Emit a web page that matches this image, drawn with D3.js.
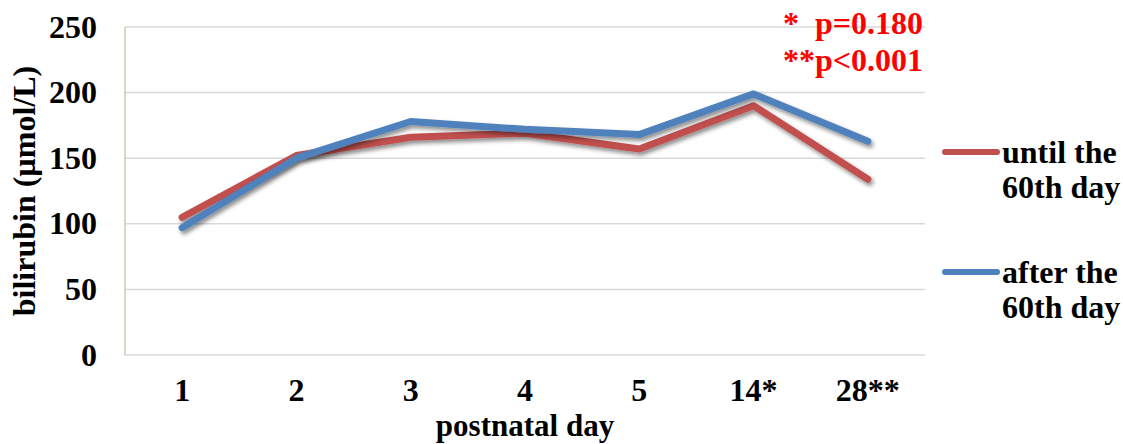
<!DOCTYPE html>
<html>
<head>
<meta charset="utf-8">
<script src="https://cdn.jsdelivr.net/npm/d3@7"></script>
<style>
  body { margin: 0; background: #fff; }
</style>
</head>
<body>
<div id="chart"></div>
<script>
// data
var days = ["1", "2", "3", "4", "5", "14*", "28**"];
var untilDay60 = [105, 152, 166, 169, 157, 190, 134];
var afterDay60 = [97, 150, 178, 172, 168, 199, 163];
var yTicks = [0, 50, 100, 150, 200, 250];
var seriesNames = [["until the", "60th day"], ["after the", "60th day"]];
var notes = ["*  p=0.180", "**p<0.001"];

var W = 1123, H = 444;
var margin = {top: 27, right: 198, bottom: 89, left: 125};
var font = "'Liberation Serif', 'Times New Roman', Times, serif";

var svg = d3.select("#chart").append("svg")
  .attr("width", W).attr("height", H)
  .attr("font-family", font)
  .attr("font-weight", "bold");

var defs = svg.append("defs");
var f = defs.append("filter").attr("id", "shadow")
  .attr("x", "-10%").attr("y", "-10%").attr("width", "120%").attr("height", "130%");
f.append("feDropShadow").attr("dx", 2).attr("dy", 3).attr("stdDeviation", 2)
  .attr("flood-color", "#000").attr("flood-opacity", 0.45);

var x = d3.scaleBand().domain(days)
  .range([margin.left, W - margin.right]).padding(0);
var y = d3.scaleLinear().domain([0, 250])
  .range([H - margin.bottom, margin.top]);

// gridlines
svg.append("g").selectAll("line").data(yTicks.filter(function(d) { return d > 0; }))
  .enter().append("line")
  .attr("x1", margin.left).attr("x2", W - margin.right)
  .attr("y1", function(d) { return y(d); }).attr("y2", function(d) { return y(d); })
  .attr("stroke", "#d9d9d9").attr("stroke-width", 1.5);

// bottom axis line
svg.append("line")
  .attr("x1", margin.left).attr("x2", W - margin.right)
  .attr("y1", y(0)).attr("y2", y(0))
  .attr("stroke", "#d9d9d9").attr("stroke-width", 1.5);

// left axis line
svg.append("line")
  .attr("x1", margin.left).attr("x2", margin.left)
  .attr("y1", y(250)).attr("y2", y(0))
  .attr("stroke", "#c4bd97").attr("stroke-width", 1.2);

// y tick labels
svg.append("g").selectAll("text").data(yTicks).enter().append("text")
  .attr("x", 97).attr("y", function(d) { return y(d); })
  .attr("dy", "0.33em")
  .attr("text-anchor", "end")
  .attr("font-size", "32px")
  .text(function(d) { return d; });

// x tick labels
svg.append("g").selectAll("text").data(days).enter().append("text")
  .attr("x", function(d) { return x(d) + x.bandwidth() / 2; })
  .attr("y", 401)
  .attr("text-anchor", "middle")
  .attr("font-size", "32px")
  .text(function(d) { return d; });

// axis titles
svg.append("text")
  .attr("x", (margin.left + W - margin.right) / 2).attr("y", 436)
  .attr("text-anchor", "middle").attr("font-size", "31px")
  .text("postnatal day");

svg.append("text")
  .attr("transform", "translate(35," + 191 + ") rotate(-90)")
  .attr("text-anchor", "middle").attr("font-size", "32px")
  .text("bilirubin (µmol/L)");

// lines
var line = d3.line()
  .x(function(d, i) { return x(days[i]) + x.bandwidth() / 2; })
  .y(function(d) { return y(d); });

var series = [
  {values: untilDay60, color: "#c0504d"},
  {values: afterDay60, color: "#4f81bd"}
];

svg.append("g").selectAll("path").data(series).enter().append("path")
  .attr("d", function(d) { return line(d.values); })
  .attr("fill", "none")
  .attr("stroke", function(d) { return d.color; })
  .attr("stroke-width", 7)
  .attr("stroke-linecap", "round")
  .attr("stroke-linejoin", "round")
  .attr("filter", "url(#shadow)");

// legend
var legY = [152, 272];
series.forEach(function(s, i) {
  svg.append("line")
    .attr("x1", 945).attr("x2", 997)
    .attr("y1", legY[i]).attr("y2", legY[i])
    .attr("stroke", s.color).attr("stroke-width", 6)
    .attr("stroke-linecap", "round");
  var t = svg.append("text")
    .attr("x", 1002).attr("y", legY[i] + 11)
    .attr("font-size", "32px");
  t.append("tspan").attr("x", 1002).text(seriesNames[i][0]);
  t.append("tspan").attr("x", 1002).attr("dy", 35).text(seriesNames[i][1]);
});

// p-value notes
svg.append("g").selectAll("text").data(notes).enter().append("text")
  .attr("x", 923).attr("y", function(d, i) { return 34 + i * 37; })
  .attr("text-anchor", "end")
  .attr("font-size", "32px")
  .attr("fill", "#ff0000")
  .style("white-space", "pre")
  .text(function(d) { return d; });
</script>
</body>
</html>
